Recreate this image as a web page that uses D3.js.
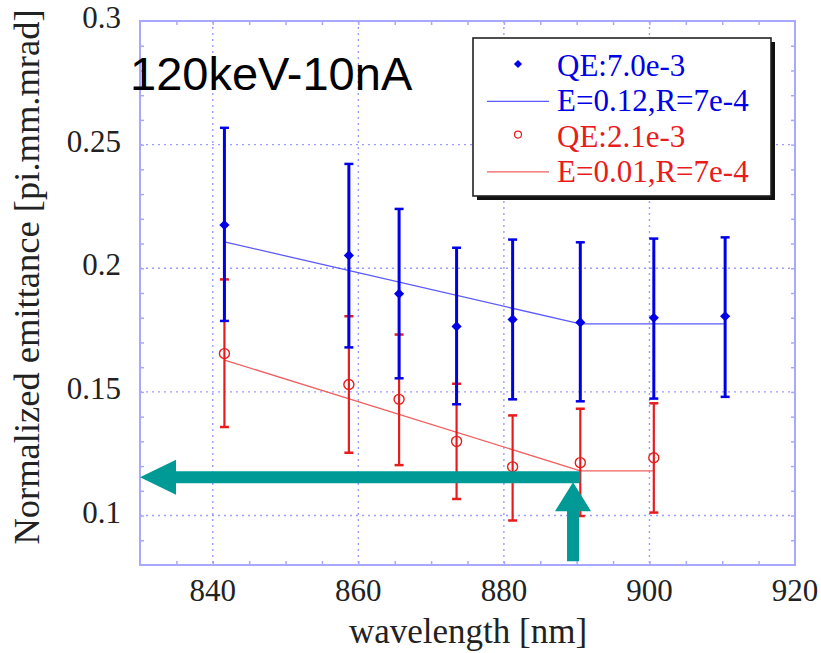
<!DOCTYPE html>
<html>
<head>
<meta charset="utf-8">
<script src="https://cdn.jsdelivr.net/npm/d3@7/dist/d3.min.js"></script>
<style>
  html, body { margin: 0; padding: 0; background: #fff; }
  svg { display: block; }
</style>
</head>
<body>
<svg id="chart" width="821" height="653"></svg>
<script>
// Emittance vs. wavelength, two photocathode QE settings
const xTicks = [840, 860, 880, 900, 920];
const yTicks = [0.1, 0.15, 0.2, 0.25, 0.3];
const yTickLabels = ["0.1", "0.15", "0.2", "0.25", "0.3"];

// QE 7.0e-3 (filled diamonds)
const waveHigh = [841.6, 858.7, 865.6, 873.5, 881.2, 890.5, 900.6, 910.4];
const emitHigh = [0.2175, 0.2052, 0.1897, 0.1765, 0.1793, 0.1781, 0.1800, 0.1806];
const loHigh   = [0.1787, 0.1680, 0.1555, 0.1450, 0.1470, 0.1462, 0.1473, 0.1480];
const hiHigh   = [0.2568, 0.2422, 0.2240, 0.2083, 0.2116, 0.2105, 0.2120, 0.2125];

// QE 2.1e-3 (open circles)
const waveLow = [841.6, 858.7, 865.6, 873.5, 881.2, 890.5, 900.6];
const emitLow = [0.1655, 0.1530, 0.1470, 0.1300, 0.1197, 0.1214, 0.1234];
const loLow   = [0.1358, 0.1254, 0.1204, 0.1067, 0.0980, 0.0998, 0.1012];
const hiLow   = [0.1955, 0.1806, 0.1732, 0.1533, 0.1405, 0.1432, 0.1454];

// Model curves
const fitHighX = [841.6, 890.5, 910.4];
const fitHighY = [0.2107, 0.1775, 0.1775];
const fitLowX  = [841.6, 890.5, 900.6];
const fitLowY  = [0.1629, 0.1181, 0.1181];

// Annotation arrows: [from, to] in data coordinates
const arrowH = [[890.5, 0.1155], [830.0, 0.1155]];
const arrowV = [[889.5, 0.0815], [889.5, 0.1135]];

const legendItems = [
  { label: "QE:7.0e-3",      color: "#0000e6", kind: "diamond" },
  { label: "E=0.12,R=7e-4",  color: "#0000e6", kind: "line" },
  { label: "QE:2.1e-3",      color: "#e81c1c", kind: "circle" },
  { label: "E=0.01,R=7e-4",  color: "#e81c1c", kind: "line" }
];

const BLUE = "#0000e6", RED = "#e81c1c", TEAL = "#009a96";
const FRAME = "#a8a8ff", GRID = "#9c9cff";
const serif = "'Liberation Serif','Times New Roman',serif";

const svg = d3.select("#chart");
const L = 140, R = 795, T = 21, B = 565;
const x = d3.scaleLinear().domain([830, 920]).range([L, R]);
const y = d3.scaleLinear().domain([0.08, 0.3]).range([B, T]);

// grid
const g = svg.append("g");
g.selectAll("line.gx").data(xTicks.filter(v => v < 920)).join("line")
  .attr("x1", d => x(d)).attr("x2", d => x(d)).attr("y1", T).attr("y2", B)
  .attr("stroke", GRID).attr("stroke-width", 1.4).attr("stroke-dasharray", "2,4");
g.selectAll("line.gy").data(yTicks.filter(v => v < 0.3)).join("line")
  .attr("y1", d => y(d)).attr("y2", d => y(d)).attr("x1", L).attr("x2", R)
  .attr("stroke", GRID).attr("stroke-width", 1.4).attr("stroke-dasharray", "2,4");

// axes: ticks point inward on all four sides
const xMinor = d3.range(835, 920, 5);
const yMinor = d3.range(9, 30).map(v => v / 100);
const axB = d3.axisBottom(x).tickValues(xMinor).tickSize(-4).tickFormat("");
const axT = d3.axisTop(x).tickValues(xMinor).tickSize(-4).tickFormat("");
const axL = d3.axisLeft(y).tickValues(yMinor).tickSize(-4).tickFormat("");
const axR = d3.axisRight(y).tickValues(yMinor).tickSize(-4).tickFormat("");
[[axB, `translate(0,${B})`], [axT, `translate(0,${T})`],
 [axL, `translate(${L},0)`], [axR, `translate(${R},0)`]].forEach(([ax, tr]) => {
  const a = svg.append("g").attr("transform", tr).call(ax);
  a.select(".domain").remove();
  a.selectAll("line").attr("stroke", FRAME).attr("stroke-width", 1.5);
});
svg.append("rect").attr("x", L).attr("y", T).attr("width", R - L).attr("height", B - T)
  .attr("fill", "none").attr("stroke", FRAME).attr("stroke-width", 2);

// tick labels
svg.append("g").selectAll("text").data(xTicks).join("text")
  .attr("x", d => x(d)).attr("y", 601).attr("text-anchor", "middle")
  .attr("font-family", serif).attr("font-size", 31).attr("fill", "#222")
  .text(d => d);
svg.append("g").selectAll("text").data(yTicks).join("text")
  .attr("x", 121).attr("y", d => y(d) + 7).attr("text-anchor", "end")
  .attr("font-family", serif).attr("font-size", 31).attr("fill", "#222")
  .text((d, i) => yTickLabels[i]);

// axis titles
svg.append("text").attr("x", 468).attr("y", 643).attr("text-anchor", "middle")
  .attr("font-family", serif).attr("font-size", 35).attr("fill", "#222")
  .text("wavelength [nm]");
svg.append("text").attr("transform", "translate(39,277) rotate(-90)")
  .attr("text-anchor", "middle")
  .attr("font-family", serif).attr("font-size", 36.5).attr("fill", "#222")
  .text("Normalized emittance [pi.mm.mrad]");

// model lines
const line = d3.line().x(d => x(d[0])).y(d => y(d[1]));
svg.append("path").datum(fitHighX.map((v, i) => [v, fitHighY[i]]))
  .attr("d", line).attr("fill", "none").attr("stroke", "#5a5aff").attr("stroke-width", 1.3);
svg.append("path").datum(fitLowX.map((v, i) => [v, fitLowY[i]]))
  .attr("d", line).attr("fill", "none").attr("stroke", "#f06060").attr("stroke-width", 1.3);

// error bars
function errorBars(xs, lo, hi, color, w) {
  const eg = svg.append("g").attr("stroke", color).attr("stroke-width", w);
  xs.forEach((v, i) => {
    const cx = x(v);
    eg.append("line").attr("x1", cx).attr("x2", cx).attr("y1", y(lo[i])).attr("y2", y(hi[i]));
    [lo[i], hi[i]].forEach(e => eg.append("line")
      .attr("x1", cx - 4.5).attr("x2", cx + 4.5).attr("y1", y(e)).attr("y2", y(e))
      .attr("stroke-width", 2.5));
  });
}
errorBars(waveLow, loLow, hiLow, RED, 2.2);
errorBars(waveHigh, loHigh, hiHigh, BLUE, 3);

// markers: a square turned 45° gives an even diamond
const diamond = d3.symbol().type(d3.symbolSquare).size(52);
svg.append("g").selectAll("path").data(waveHigh).join("path")
  .attr("transform", (d, i) => `translate(${x(d)},${y(emitHigh[i])}) rotate(45)`)
  .attr("d", diamond).attr("fill", BLUE);
svg.append("g").selectAll("circle").data(waveLow).join("circle")
  .attr("cx", d => x(d)).attr("cy", (d, i) => y(emitLow[i])).attr("r", 5)
  .attr("fill", "none").attr("stroke", RED).attr("stroke-width", 1.4);

// teal arrows
function arrow(p0, p1, hl, hh) {
  const x0 = x(p0[0]), y0 = y(p0[1]), x1 = x(p1[0]), y1 = y(p1[1]);
  const len = Math.hypot(x1 - x0, y1 - y0), ux = (x1 - x0) / len, uy = (y1 - y0) / len;
  const nx = -uy, ny = ux, hw = 6;
  const bx = x1 - ux * hl, by = y1 - uy * hl;
  const pts = [
    [x0 + nx * hw, y0 + ny * hw], [bx + nx * hw, by + ny * hw], [bx + nx * hh, by + ny * hh],
    [x1, y1], [bx - nx * hh, by - ny * hh], [bx - nx * hw, by - ny * hw], [x0 - nx * hw, y0 - ny * hw]
  ];
  svg.append("polygon").attr("points", pts.map(p => p.join(",")).join(" ")).attr("fill", TEAL);
}
arrow(arrowH[0], arrowH[1], 36, 17.5);
arrow(arrowV[0], arrowV[1], 29, 18);

// title
svg.append("text").attr("x", 130).attr("y", 90)
  .attr("font-family", "'Liberation Sans',Arial,sans-serif").attr("font-size", 47)
  .attr("fill", "#000").text("120keV-10nA");

// legend
const lg = svg.append("g").attr("transform", "translate(473,38)");
lg.append("rect").attr("x", 4).attr("y", 4).attr("width", 298).attr("height", 158).attr("fill", "#111");
lg.append("rect").attr("x", 0).attr("y", 0).attr("width", 298).attr("height", 158)
  .attr("fill", "#fff").attr("stroke", "#222").attr("stroke-width", 1.6);
legendItems.forEach((it, i) => {
  const cy = 26 + i * 35.3;
  const row = lg.append("g");
  if (it.kind === "line") {
    row.append("line").attr("x1", 14).attr("x2", 76).attr("y1", cy + 2).attr("y2", cy + 2)
      .attr("stroke", it.color === BLUE ? "#5a5aff" : "#f06060").attr("stroke-width", 1.3);
  } else if (it.kind === "diamond") {
    row.append("path").attr("transform", `translate(45,${cy}) rotate(45)`)
      .attr("d", d3.symbol().type(d3.symbolSquare).size(34)).attr("fill", it.color);
  } else {
    row.append("circle").attr("cx", 45).attr("cy", cy).attr("r", 3.5)
      .attr("fill", "none").attr("stroke", it.color).attr("stroke-width", 1.2);
  }
  row.append("text").attr("x", 84).attr("y", cy + 12)
    .attr("font-family", serif).attr("font-size", 31).attr("fill", it.color).text(it.label);
});
</script>
</body>
</html>
